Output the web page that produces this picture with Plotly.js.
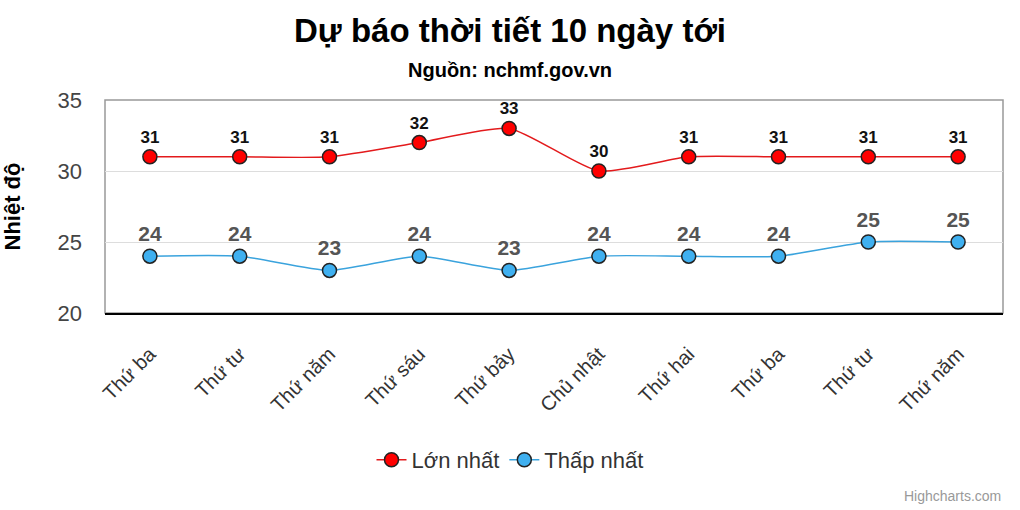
<!DOCTYPE html>
<html>
<head>
<meta charset="utf-8">
<script src="https://cdn.plot.ly/plotly-3.0.1.min.js"></script>
<style>body{margin:0;padding:0;background:#fff}#chart{width:1020px;height:510px}</style>
</head>
<body>
<div id="chart"></div>
<script>
const categories = ["Thứ ba","Thứ tư","Thứ năm","Thứ sáu","Thứ bảy","Chủ nhật","Thứ hai","Thứ ba","Thứ tư","Thứ năm"];
const maxTemps = [31,31,31,32,33,30,31,31,31,31];
const minTemps = [24,24,23,24,23,24,24,24,25,25];
const idx = categories.map((c,i)=>i);

const FONT = "Liberation Sans, Arial, sans-serif";
const CX = (510 - 105) / 898;

const traces = [
  {
    x: idx, y: maxTemps, name: "Lớn nhất", type: "scatter",
    mode: "lines+markers+text",
    line: {color: "#e31a1c", width: 1.5, shape: "spline", smoothing: 0.6},
    marker: {color: "#ff0000", size: 14, line: {color: "#222", width: 1.5}},
    text: maxTemps.map(String), textposition: "top center",
    textfont: {family: FONT, size: 17, color: "#111", weight: "bold"},
    cliponaxis: false
  },
  {
    x: idx, y: minTemps, name: "Thấp nhất", type: "scatter",
    mode: "lines+markers+text",
    line: {color: "#3aa3dd", width: 1.5, shape: "spline", smoothing: 0.6},
    marker: {color: "#3fb0f0", size: 14, line: {color: "#222", width: 1.5}},
    text: minTemps.map(String), textposition: "top center",
    textfont: {family: FONT, size: 21, color: "#555", weight: "bold"},
    cliponaxis: false
  }
];

const layout = {
  width: 1020, height: 510,
  margin: {l: 105, r: 17, t: 100, b: 197},
  paper_bgcolor: "#fff", plot_bgcolor: "#fff",
  font: {family: FONT, color: "#333"},
  showlegend: true,
  legend: {orientation: "h", x: CX, xanchor: "center", y: -0.69, yanchor: "middle",
           font: {family: FONT, size: 22, color: "#333"}, itemwidth: 30, tracegroupgap: 0},
  xaxis: {
    range: [-0.5, 9.5], tickmode: "array", tickvals: idx, ticktext: categories,
    tickangle: -45, tickfont: {family: FONT, size: 20, color: "#333"},
    ticklabelstandoff: 20,
    showline: true, linecolor: "#000", linewidth: 1.5, showgrid: false, zeroline: false,
    ticks: "", fixedrange: true
  },
  yaxis: {
    range: [20, 35], dtick: 5, tick0: 20,
    tickfont: {family: FONT, size: 22, color: "#444"},
    ticklabelstandoff: 22,
    showgrid: true, gridcolor: "#dddddd", gridwidth: 1, zeroline: false,
    showline: false, ticks: "", ticklen: 0,
    title: {text: "Nhiệt độ", font: {family: FONT, size: 22, color: "#000", weight: "bold"}, standoff: 38}
  },
  title: {text: "<b>Dự báo thời tiết 10 ngày tới</b>", x: 0.5, xanchor: "center", y: 0.94, yanchor: "middle",
          font: {family: FONT, size: 33, color: "#000"}},
  annotations: [
    {text: "<b>Nguồn: nchmf.gov.vn</b>", xref: "paper", yref: "paper", x: CX, y: 1.0, yshift: 30, yanchor: "middle",
     showarrow: false, font: {family: FONT, size: 20, color: "#000"}},
    {text: "Highcharts.com", xref: "paper", yref: "paper", x: 1, xanchor: "right", y: 0, yshift: -183,
     yanchor: "middle", showarrow: false, font: {family: FONT, size: 14, color: "#999"}}
  ],
  shapes: [
    {type: "rect", xref: "paper", yref: "paper", x0: 0, x1: 1, y0: 0, y1: 1,
     line: {color: "#999", width: 1.5}, layer: "below"}
  ]
};

Plotly.newPlot("chart", traces, layout, {displayModeBar: false, staticPlot: true});
</script>
</body>
</html>
